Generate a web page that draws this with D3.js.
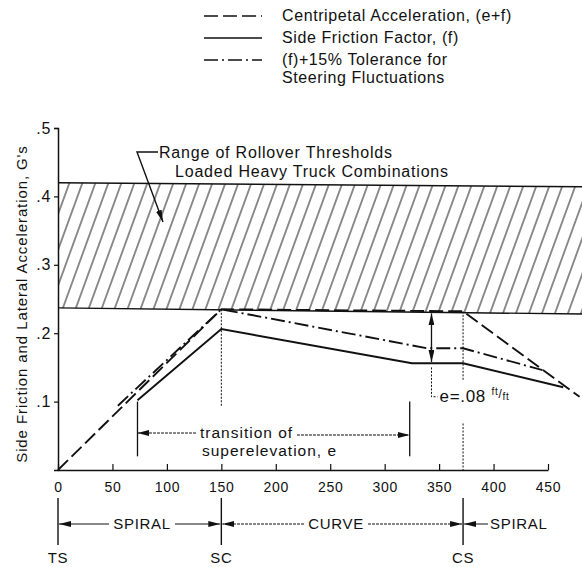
<!DOCTYPE html>
<html>
<head>
<meta charset="utf-8">
<title>Side friction chart</title>
<script src="https://d3js.org/d3.v7.min.js"></script>
<style>
  body { margin: 0; background: #fff; }
  text { font-family: "Liberation Sans", Arial, sans-serif; fill: #111; letter-spacing: 0.7px; }
</style>
</head>
<body>
<script>
// data
const xTicks = [0, 50, 100, 150, 200, 250, 300, 350, 400, 450];
const yTicks = [0.1, 0.2, 0.3, 0.4, 0.5];

const centripetalX = [0, 150, 372, 479];
const centripetalY = [0, 0.235, 0.232, 0.107];

const frictionX = [73, 150, 325, 372, 464];
const frictionY = [0.102, 0.206, 0.156, 0.156, 0.121];

const toleranceX = [55, 150, 339, 372, 445];
const toleranceY = [0.094, 0.235, 0.178, 0.178, 0.146];

const bandX = [0, 482];
const bandTop = [0.42, 0.414];
const bandBottom = [0.237, 0.228];

const stations = [
  { name: 'TS', x: 0 },
  { name: 'SC', x: 150 },
  { name: 'CS', x: 372 }
];
const transitionX = [73, 323];
const marginX = 343;

const legendItems = [
  { label: 'Centripetal Acceleration, (e+f)', dash: '14,5' },
  { label: 'Side Friction Factor, (f)', dash: null },
  { label: '(f)+15% Tolerance for', dash: '14,4,2,4' }
];

const W = 582, H = 567;
const x = d3.scaleLinear().domain([0, 450]).range([58, 548]);
const y = d3.scaleLinear().domain([0, 0.5]).range([470, 128]);

const svg = d3.select('body').append('svg')
  .attr('width', W)
  .attr('height', H);

const defs = svg.append('defs');
defs.append('pattern')
  .attr('id', 'hatch')
  .attr('patternUnits', 'userSpaceOnUse')
  .attr('width', 13)
  .attr('height', 13)
  .attr('patternTransform', 'skewX(-20)')
  .append('line')
  .attr('x1', 6).attr('y1', -1).attr('x2', 6).attr('y2', 14)
  .attr('stroke', '#111').attr('stroke-width', 1);

defs.append('marker')
  .attr('id', 'arrow')
  .attr('viewBox', '0 0 12 6')
  .attr('refX', 12).attr('refY', 3)
  .attr('markerWidth', 12).attr('markerHeight', 6)
  .attr('markerUnits', 'userSpaceOnUse')
  .attr('orient', 'auto-start-reverse')
  .append('path')
  .attr('d', 'M0,0 L12,3 L0,6 Z')
  .attr('fill', '#111');

// rollover band
const band = bandX.map((v, i) => [v, bandTop[i], bandBottom[i]]);
svg.append('path')
  .attr('d', d3.area().x(d => x(d[0])).y0(d => y(d[2])).y1(d => y(d[1]))(band))
  .attr('fill', 'url(#hatch)');
svg.append('path')
  .attr('d', d3.line().x(d => x(d[0])).y(d => y(d[1]))(band))
  .attr('fill', 'none').attr('stroke', '#111').attr('stroke-width', 1.4);
svg.append('path')
  .attr('d', d3.line().x(d => x(d[0])).y(d => y(d[2]))(band))
  .attr('fill', 'none').attr('stroke', '#111').attr('stroke-width', 1.4);

// axes
const xAxis = svg.append('g')
  .attr('transform', `translate(0,${y(0)})`)
  .call(d3.axisBottom(x).tickValues(xTicks).tickSizeInner(-6).tickSizeOuter(0).tickPadding(12));
const yAxis = svg.append('g')
  .attr('transform', `translate(${x(0)},0)`)
  .call(d3.axisLeft(y).tickValues(yTicks).tickSize(4).tickPadding(3)
    .tickFormat(d => '.' + Math.round(d * 10)));
[xAxis, yAxis].forEach(g => {
  g.select('.domain').attr('stroke', '#111').attr('stroke-width', 1.5);
  g.selectAll('.tick line').attr('stroke', '#111').attr('stroke-width', 1.2);
  g.selectAll('.tick text').attr('fill', '#111').style('font-family', '"Liberation Sans", Arial, sans-serif');
});
xAxis.selectAll('.tick text').attr('font-size', 14);
yAxis.selectAll('.tick text').attr('font-size', 16);

svg.append('text')
  .attr('transform', `translate(27,${(y(0) + y(0.5)) / 2 + 5}) rotate(-90)`)
  .attr('text-anchor', 'middle')
  .attr('font-size', 15)
  .style('letter-spacing', '0.9px')
  .text("Side Friction and Lateral Acceleration, G's");

// station reference lines in the plot
const sc = stations[1], cs = stations[2];
svg.append('line')
  .attr('x1', x(sc.x)).attr('x2', x(sc.x))
  .attr('y1', y(0.235)).attr('y2', y(0.092))
  .attr('stroke', '#111').attr('stroke-width', 1).attr('stroke-dasharray', '2,1.5');
svg.append('line')
  .attr('x1', x(cs.x)).attr('x2', x(cs.x))
  .attr('y1', y(0.232)).attr('y2', y(0.13))
  .attr('stroke', '#111').attr('stroke-width', 1).attr('stroke-dasharray', '2,1.5');
svg.append('line')
  .attr('x1', x(cs.x)).attr('x2', x(cs.x))
  .attr('y1', y(0.068)).attr('y2', y(0))
  .attr('stroke', '#111').attr('stroke-width', 1).attr('stroke-dasharray', '2,1.5');

// series lines
const lineGen = d3.line().x(d => x(d[0])).y(d => y(d[1]));
const series = [
  { xs: centripetalX, ys: centripetalY, dash: '14,5' },
  { xs: frictionX, ys: frictionY, dash: null },
  { xs: toleranceX, ys: toleranceY, dash: '14,4,2,4' }
];
series.forEach(s => {
  svg.append('path')
    .attr('d', lineGen(s.xs.map((v, i) => [v, s.ys[i]])))
    .attr('fill', 'none')
    .attr('stroke', '#111')
    .attr('stroke-width', 1.9)
    .attr('stroke-dasharray', s.dash);
});

// superelevation margin arrow
svg.append('line')
  .attr('x1', x(marginX)).attr('x2', x(marginX))
  .attr('y1', y(0.178)).attr('y2', y(0.229))
  .attr('stroke', '#111').attr('stroke-width', 1.3)
  .attr('marker-end', 'url(#arrow)');
svg.append('line')
  .attr('x1', x(marginX)).attr('x2', x(marginX))
  .attr('y1', y(0.178)).attr('y2', y(0.158))
  .attr('stroke', '#111').attr('stroke-width', 1.3)
  .attr('marker-end', 'url(#arrow)');
svg.append('path')
  .attr('d', `M${x(marginX)},${y(0.15)} V${y(0.107)} H${x(marginX) + 6}`)
  .attr('fill', 'none').attr('stroke', '#111').attr('stroke-width', 1)
  .attr('stroke-dasharray', '2,1.5');
const eText = svg.append('text')
  .attr('x', x(marginX) + 8).attr('y', y(0.1))
  .attr('font-size', 17);
eText.append('tspan').text('e=.08 ');
eText.append('tspan').attr('font-size', 10).attr('dy', -7).text('ft');
eText.append('tspan').attr('font-size', 12).attr('dy', 3).text('/');
eText.append('tspan').attr('font-size', 10).attr('dy', 2).text('ft');

// transition of superelevation
transitionX.forEach(v => {
  svg.append('line')
    .attr('x1', x(v)).attr('x2', x(v))
    .attr('y1', y(0.1)).attr('y2', y(0.02))
    .attr('stroke', '#111').attr('stroke-width', 1.3);
});
svg.append('line')
  .attr('x1', 196).attr('x2', x(transitionX[0]))
  .attr('y1', 433).attr('y2', 433)
  .attr('stroke', '#111').attr('stroke-width', 1).attr('stroke-dasharray', '3,1')
  .attr('marker-end', 'url(#arrow)');
svg.append('line')
  .attr('x1', 297).attr('x2', x(transitionX[1]))
  .attr('y1', 435).attr('y2', 435)
  .attr('stroke', '#111').attr('stroke-width', 1).attr('stroke-dasharray', '3,1')
  .attr('marker-end', 'url(#arrow)');
svg.append('text').attr('x', 200).attr('y', 438).attr('font-size', 15.5).style('letter-spacing', '1px').text('transition of');
svg.append('text').attr('x', 202).attr('y', 456).attr('font-size', 15.5).style('letter-spacing', '1px').text('superelevation, e');

// rollover label
svg.append('text').attr('x', 159).attr('y', 158).attr('font-size', 16).style('letter-spacing', '0.8px').text('Range of Rollover Thresholds');
svg.append('text').attr('x', 175).attr('y', 177).attr('font-size', 16).style('letter-spacing', '0.8px').text('Loaded Heavy Truck Combinations');
svg.append('path')
  .attr('d', 'M158,152 H137 L163,222')
  .attr('fill', 'none').attr('stroke', '#111').attr('stroke-width', 1.4)
  .attr('marker-end', 'url(#arrow)');

// stations below the axis
stations.forEach(s => {
  svg.append('line')
    .attr('x1', x(s.x)).attr('x2', x(s.x))
    .attr('y1', 498).attr('y2', 545)
    .attr('stroke', '#111').attr('stroke-width', 1.4);
  svg.append('text')
    .attr('x', x(s.x)).attr('y', 563)
    .attr('text-anchor', 'middle')
    .attr('font-size', 15)
    .text(s.name);
});
const rowY = 524;
const spans = [
  { label: 'SPIRAL', from: 0, to: 150, l: 112, r: 172 },
  { label: 'CURVE', from: 150, to: 372, l: 307, r: 365 }
];
spans.forEach(sp => {
  svg.append('text')
    .attr('x', (sp.l + sp.r) / 2).attr('y', rowY + 5)
    .attr('text-anchor', 'middle').attr('font-size', 15)
    .text(sp.label);
  svg.append('line')
    .attr('x1', sp.l - 3).attr('x2', x(sp.from) + 1)
    .attr('y1', rowY).attr('y2', rowY)
    .attr('stroke', '#111').attr('stroke-width', 1).attr('stroke-dasharray', sp.label === 'CURVE' ? '3,1' : null)
    .attr('marker-end', 'url(#arrow)');
  svg.append('line')
    .attr('x1', sp.r + 3).attr('x2', x(sp.to) - 1)
    .attr('y1', rowY).attr('y2', rowY)
    .attr('stroke', '#111').attr('stroke-width', 1).attr('stroke-dasharray', sp.label === 'CURVE' ? '3,1' : null)
    .attr('marker-end', 'url(#arrow)');
});
svg.append('line')
  .attr('x1', 488).attr('x2', x(372) + 1)
  .attr('y1', rowY).attr('y2', rowY)
  .attr('stroke', '#111').attr('stroke-width', 1)
  .attr('marker-end', 'url(#arrow)');
svg.append('text')
  .attr('x', 490).attr('y', rowY + 5)
  .attr('font-size', 15)
  .text('SPIRAL');

// legend
const legend = svg.append('g');
legendItems.forEach((d, i) => {
  const ly = 16 + i * 22;
  legend.append('line')
    .attr('x1', 204).attr('x2', 262)
    .attr('y1', ly).attr('y2', ly)
    .attr('stroke', '#111').attr('stroke-width', 1.6)
    .attr('stroke-dasharray', d.dash);
  legend.append('text')
    .attr('x', 282).attr('y', ly + 5)
    .attr('font-size', 16)
    .style('letter-spacing', '0.6px')
    .text(d.label);
});
legend.append('text')
  .attr('x', 282).attr('y', 16 + 2 * 22 + 5 + 18)
  .attr('font-size', 16)
  .style('letter-spacing', '0.6px')
  .text('Steering Fluctuations');
</script>
</body>
</html>
